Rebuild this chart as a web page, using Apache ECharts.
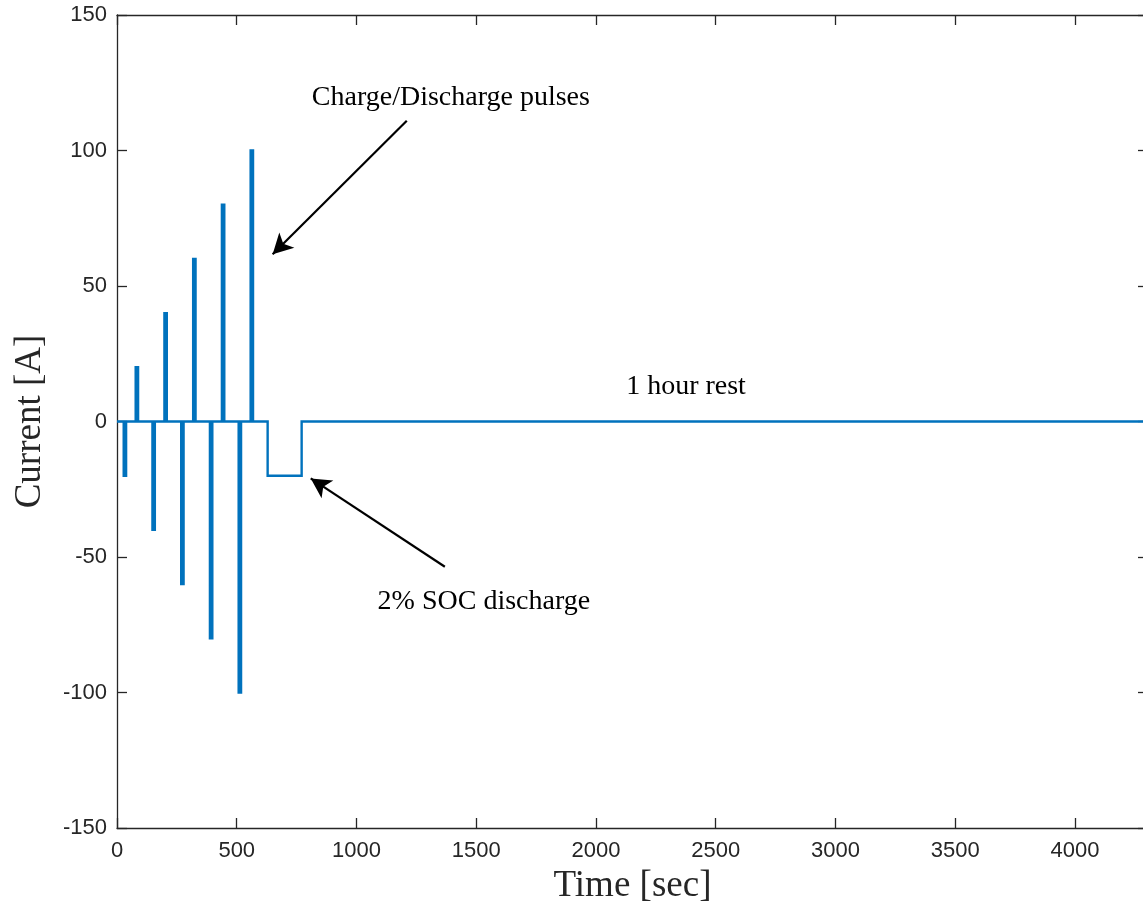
<!DOCTYPE html>
<html>
<head>
<meta charset="utf-8">
<title>Current profile</title>
<script src="https://cdn.jsdelivr.net/npm/echarts@6/dist/echarts.min.js"></script>
<style>
    html, body { margin: 0; padding: 0; background: #fff; }
    #chart { width: 1143px; height: 905px; }
</style>
</head>
<body>
<div id="chart"></div>
<script>
// pulse timings [sec] and currents [A]
var pulseStart = [28, 78, 148, 198, 268, 318, 388, 438, 508, 558];
var pulseEnd = [38, 88, 158, 208, 278, 328, 398, 448, 518, 568];
var pulseCurrent = [-20, 20, -40, 40, -60, 60, -80, 80, -100, 100];
// 2% SOC discharge block, then rest to the end of the record
var socStart = 629;
var socEnd = 771;
var socCurrent = -20;
var endTime = 4305;

var yTicks = [-150, -100, -50, 0, 50, 100, 150];
var xTicks = [0, 500, 1000, 1500, 2000, 2500, 3000, 3500, 4000];

// notes: [time, current, text]
var notes = [
    [1394, 119.4, 'Charge/Discharge pulses'],
    [2376, 12.7, '1 hour rest'],
    [1532, -66.5, '2% SOC discharge']
];
// arrows: [fromTime, fromCurrent, toTime, toCurrent]
var arrows = [
    [1210, 111.0, 650, 61.7],
    [1369, -53.6, 809, -21.0]
];

/**
 * 阶梯电流曲线
 */
function buildSteps() {
    var pts = [[0, 0]];
    for (var i = 0; i < pulseStart.length; i++) {
        pts.push([pulseStart[i], 0]);
        pts.push([pulseStart[i], pulseCurrent[i]]);
        pts.push([pulseEnd[i], pulseCurrent[i]]);
        pts.push([pulseEnd[i], 0]);
    }
    pts.push([socStart, 0]);
    pts.push([socStart, socCurrent]);
    pts.push([socEnd, socCurrent]);
    pts.push([socEnd, 0]);
    pts.push([endTime, 0]);
    return pts;
}

var axisColor = '#262626';
var tickFont = 'Liberation Sans, Arial, Helvetica, sans-serif';
var serifFont = 'Liberation Serif, Times New Roman, serif';

function frameAxis(extra) {
    var base = {
        axisLine: { show: true, onZero: false, lineStyle: { color: axisColor, width: 1.3 } },
        axisTick: { show: true, inside: true, length: 10, lineStyle: { color: axisColor, width: 1.3 } },
        splitLine: { show: false }
    };
    for (var k in extra) {
        base[k] = extra[k];
    }
    return base;
}

var chart = echarts.init(document.getElementById('chart'));

chart.setOption({
    animation: false,
    backgroundColor: '#fff',
    grid: {
        left: 117,
        top: 15,
        width: 1031,
        height: 813,
        outerBoundsMode: 'none'
    },
    xAxis: [
        frameAxis({
            type: 'value',
            position: 'bottom',
            min: 0,
            max: endTime,
            interval: 500,
            name: 'Time [sec]',
            nameLocation: 'middle',
            nameGap: 40,
            nameTextStyle: { fontFamily: serifFont, fontSize: 37, color: axisColor },
            axisLabel: {
                fontFamily: tickFont, fontSize: 22, color: axisColor, margin: 12,
                showMaxLabel: false,
                formatter: function (v) { return xTicks.indexOf(v) >= 0 ? String(v) : ''; }
            }
        }),
        frameAxis({
            type: 'value',
            position: 'top',
            min: 0,
            max: endTime,
            interval: 500,
            axisLabel: { show: false }
        })
    ],
    yAxis: [
        frameAxis({
            type: 'value',
            position: 'left',
            min: -150,
            max: 150,
            interval: 50,
            name: 'Current [A]',
            nameLocation: 'middle',
            nameGap: 68,
            nameTextStyle: { fontFamily: serifFont, fontSize: 37, color: axisColor },
            axisLabel: {
                fontFamily: tickFont, fontSize: 22, color: axisColor, margin: 10,
                formatter: function (v) { return yTicks.indexOf(v) >= 0 ? String(v) : ''; }
            }
        }),
        frameAxis({
            type: 'value',
            position: 'right',
            min: -150,
            max: 150,
            interval: 50,
            axisLabel: { show: false }
        })
    ],
    series: [
        {
            name: 'Current',
            type: 'line',
            data: buildSteps(),
            showSymbol: false,
            lineStyle: { color: '#0072BD', width: 2.4, join: 'miter' },
            itemStyle: { color: '#0072BD' },
            markLine: {
                silent: true,
                symbol: ['none', 'arrow'],
                symbolSize: [16, 20],
                label: { show: false },
                lineStyle: { color: '#000', width: 2.2, type: 'solid' },
                data: arrows.map(function (a) {
                    return [{ coord: [a[0], a[1]] }, { coord: [a[2], a[3]] }];
                })
            },
            markPoint: {
                silent: true,
                symbol: 'circle',
                symbolSize: 0,
                label: {
                    show: true,
                    position: 'inside',
                    color: '#000',
                    fontFamily: serifFont,
                    fontSize: 28,
                    formatter: function (p) { return p.name; }
                },
                data: notes.map(function (n) {
                    return { coord: [n[0], n[1]], name: n[2], value: n[2] };
                })
            }
        }
    ]
});

window.onresize = function () {
    chart.resize();
};
</script>
</body>
</html>
